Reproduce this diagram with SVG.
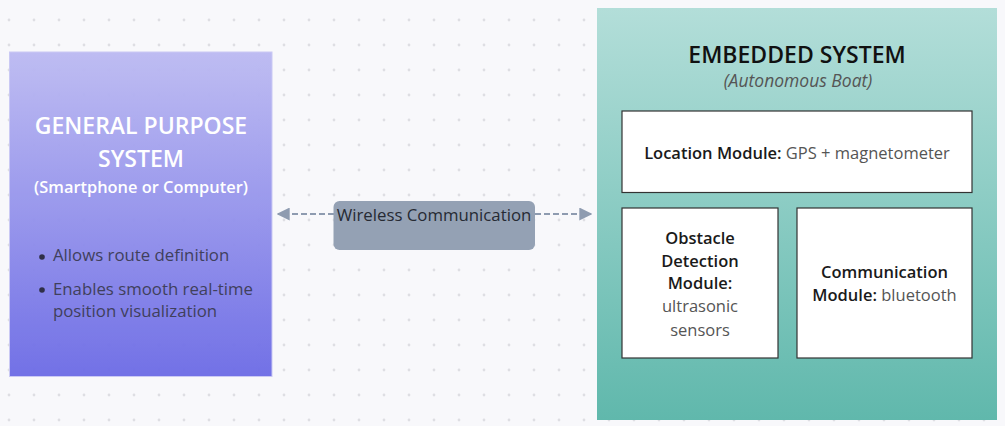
<svg xmlns="http://www.w3.org/2000/svg" width="1005" height="426" viewBox="0 0 1005 426">
<defs>
<pattern id="dots" x="9" y="20" width="25" height="25" patternUnits="userSpaceOnUse">
<circle cx="0" cy="0" r="1.4" fill="#dedee3"/><circle cx="25" cy="0" r="1.4" fill="#dedee3"/><circle cx="0" cy="25" r="1.4" fill="#dedee3"/><circle cx="25" cy="25" r="1.4" fill="#dedee3"/>
</pattern>
<linearGradient id="gpGrad" x1="0" y1="0" x2="0" y2="1">
<stop offset="0" stop-color="#bdbbf2"/><stop offset="1" stop-color="#6e6de6"/>
</linearGradient>
<linearGradient id="emGrad" x1="0" y1="0" x2="0" y2="1">
<stop offset="0" stop-color="#b3ded9"/><stop offset="1" stop-color="#60b8ac"/>
</linearGradient>
<marker id="ah" viewBox="0 0 10 10" refX="9" refY="5" markerWidth="13" markerHeight="13" markerUnits="userSpaceOnUse" orient="auto-start-reverse">
<path d="M0,0 L10,5 L0,10 Z" fill="#8e9bb0"/>
</marker>
<style>
text{font-family:"Open Sans","Noto Sans","Liberation Sans",sans-serif;}
.ttl{font-size:23px;font-weight:600;text-anchor:middle;}
.mod{fill:#ffffff;stroke:#333333;stroke-width:1.2;}
.mt{font-size:16.5px;text-anchor:middle;fill:#222;}
.b{font-weight:600;fill:#1a1a1a;}
.r{font-weight:400;fill:#555;}
.bul{font-size:16.8px;fill:#40405c;}
.conn{stroke:#8e9bb0;stroke-width:2;stroke-dasharray:6,3;fill:none;}
</style>
</defs>
<rect width="1005" height="426" fill="#f8f8fb"/>
<rect width="1005" height="426" fill="url(#dots)"/>

<g id="connectors">
<line class="conn" x1="334" y1="214" x2="278" y2="214" marker-end="url(#ah)"/>
<line class="conn" x1="535" y1="214" x2="591" y2="214" marker-end="url(#ah)"/>
</g>

<g id="general-purpose">
<rect x="9.5" y="52" width="262.5" height="324.5" fill="url(#gpGrad)" stroke="#c9c8f4" stroke-width="1" opacity="0.97"/>
<text class="ttl" x="141" y="134" fill="#ffffff">GENERAL PURPOSE</text>
<text class="ttl" x="141" y="167" fill="#ffffff">SYSTEM</text>
<text x="141" y="193" font-size="16.4" font-weight="600" text-anchor="middle" fill="#ffffff">(Smartphone or Computer)</text>
<circle cx="42" cy="257" r="2.8" fill="#2f2f48"/>
<text class="bul" x="53" y="261">Allows route definition</text>
<circle cx="42" cy="290" r="2.8" fill="#2f2f48"/>
<text class="bul" x="53" y="295">Enables smooth real-time</text>
<text class="bul" x="53" y="317">position visualization</text>
</g>

<g id="wireless-label">
<rect x="333.5" y="201" width="201.5" height="49" rx="6" fill="#94a1b4"/>
<text x="434" y="221" font-size="16.8" text-anchor="middle" fill="#262a33">Wireless Communication</text>
</g>

<g id="embedded-system">
<rect x="597" y="8" width="400" height="412" fill="url(#emGrad)"/>
<text class="ttl" x="797" y="63" fill="#111111">EMBEDDED SYSTEM</text>
<text x="798" y="87" font-size="17.5" font-style="italic" text-anchor="middle" fill="#555555">(Autonomous Boat)</text>
</g>

<g id="location-module">
<rect class="mod" x="622" y="111" width="350" height="81.5"/>
<text class="mt" x="797" y="159"><tspan class="b">Location Module:</tspan><tspan class="r"> GPS + magnetometer</tspan></text>
</g>

<g id="obstacle-module">
<rect class="mod" x="622" y="208" width="156" height="150"/>
<text class="mt" x="700" y="244"><tspan class="b">Obstacle</tspan></text>
<text class="mt" x="700" y="267"><tspan class="b">Detection</tspan></text>
<text class="mt" x="700" y="289"><tspan class="b">Module:</tspan></text>
<text class="mt" x="700" y="312"><tspan class="r">ultrasonic</tspan></text>
<text class="mt" x="700" y="336"><tspan class="r">sensors</tspan></text>
</g>

<g id="communication-module">
<rect class="mod" x="797" y="208" width="175" height="150"/>
<text class="mt" x="884.5" y="278"><tspan class="b">Communication</tspan></text>
<text class="mt" x="884.5" y="301"><tspan class="b">Module:</tspan><tspan class="r"> bluetooth</tspan></text>
</g>
</svg>
